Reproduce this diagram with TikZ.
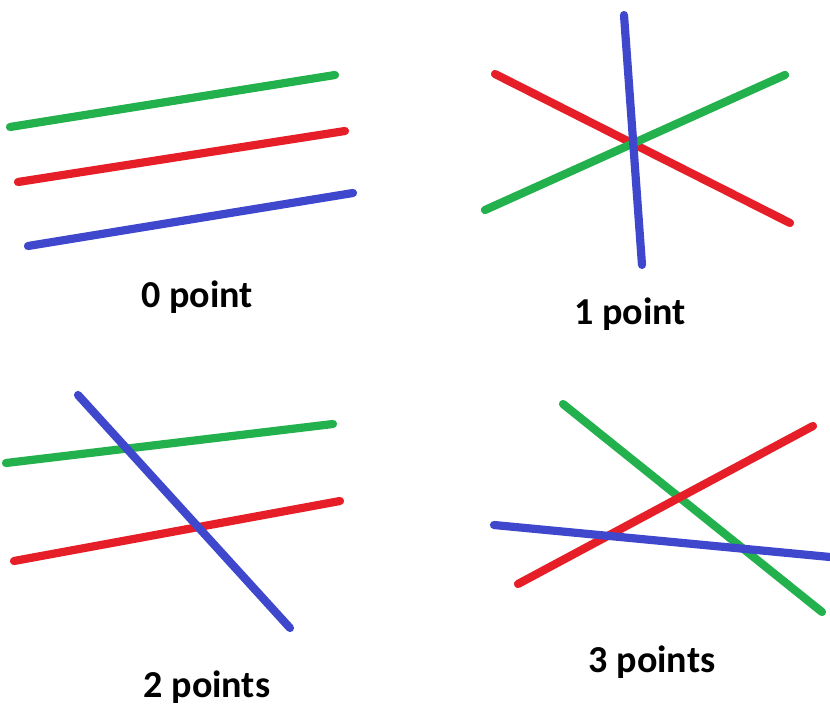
\documentclass[tikz,border=0pt]{standalone}
\usepackage{fontspec}
\setmainfont{Carlito}
\usetikzlibrary{positioning}
\definecolor{lnGreen}{HTML}{22B14C}
\definecolor{lnRed}{HTML}{E61E28}
\definecolor{lnBlue}{HTML}{3F48CC}
\tikzset{
  gline/.style = {lnGreen, line width=7pt, line cap=round},
  rline/.style = {lnRed,   line width=7pt, line cap=round},
  bline/.style = {lnBlue,  line width=7pt, line cap=round},
  lbl/.style   = {font=\fontsize{32.5}{38}\selectfont\bfseries, anchor=base, inner sep=0pt},
}
\begin{document}
\begin{tikzpicture}[x=0.03cm,y=-0.03cm]
  \useasboundingbox (0,0) rectangle (830,709);
  % no crossing
  \draw[gline] (10,127) -- (335,75);
  \draw[rline] (18,182) -- (345,131);
  \draw[bline] (28,246) -- (353,193);
  \node[lbl] (zero) at (197,308) {0 point};
  % one common crossing
  \draw[rline] (495,74) -- (790,223);
  \draw[gline] (485,210) -- (785,75);
  \draw[bline] (624,15) -- (642,265);
  \node[lbl] (one) at (630,325) {1 point};
  % two crossings
  \draw[gline] (6,463) -- (333,424);
  \draw[rline] (14,561) -- (340,501);
  \draw[bline] (78,395) -- (290,628);
  \node[lbl] (two) at (207,697) {2 points};
  % three crossings
  \draw[gline] (563,404) -- (822,612);
  \draw[rline] (518,584) -- (813,426);
  \draw[bline] (494,525) -- (830,557);
  \node[lbl] (three) at (652,672) {3 points};
\end{tikzpicture}
\end{document}
